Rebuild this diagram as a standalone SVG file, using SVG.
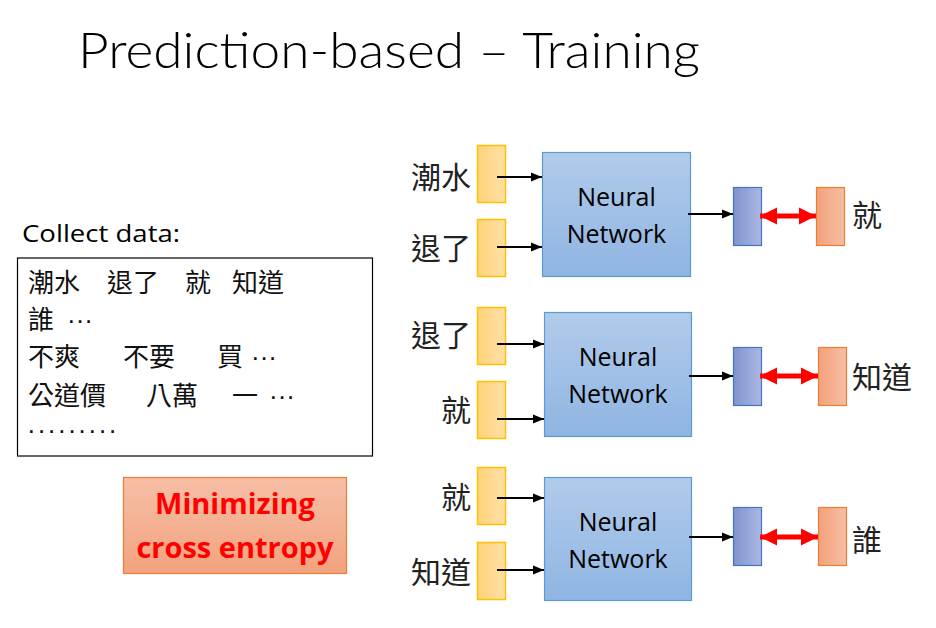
<svg xmlns="http://www.w3.org/2000/svg" width="936" height="628" viewBox="0 0 936 628">
<defs>
<linearGradient id="gy" x1="0" y1="0" x2="1" y2="0"><stop offset="0" stop-color="#FFD27A"/><stop offset="1" stop-color="#FFE0A6"/></linearGradient>
<linearGradient id="gn" x1="0" y1="0" x2="0" y2="1"><stop offset="0" stop-color="#B1CBEA"/><stop offset="1" stop-color="#8FB5E3"/></linearGradient>
<linearGradient id="gb" x1="0" y1="0" x2="1" y2="0"><stop offset="0" stop-color="#7F93CD"/><stop offset="1" stop-color="#AAB8E2"/></linearGradient>
<linearGradient id="go" x1="0" y1="0" x2="1" y2="0"><stop offset="0" stop-color="#F3A07C"/><stop offset="1" stop-color="#F6BFA4"/></linearGradient>
<linearGradient id="gm" x1="0" y1="0" x2="0" y2="1"><stop offset="0" stop-color="#F6BFA6"/><stop offset="1" stop-color="#F2A27E"/></linearGradient>
<marker id="ah" viewBox="0 0 10 10" refX="10" refY="5" markerWidth="5" markerHeight="5" orient="auto" markerUnits="strokeWidth"><path d="M0,1 L10,5 L0,9 z" fill="#000"/></marker>
<marker id="rh" viewBox="0 0 10 10" refX="10" refY="5" markerWidth="3.4" markerHeight="3.8" orient="auto-start-reverse" markerUnits="strokeWidth"><path d="M0,0 L10,5 L0,10 z" fill="#FF0000"/></marker>
<style>
.yel{fill:url(#gy);stroke:#FFC000;stroke-width:1.5}
.nn{fill:url(#gn);stroke:#5B9BD5;stroke-width:1.2}
.blu{fill:url(#gb);stroke:#4472C4;stroke-width:1.2}
.org{fill:url(#go);stroke:#ED7D31;stroke-width:1.2}
.ar{stroke:#000;stroke-width:2.2;fill:none;marker-end:url(#ah)}
.ra{stroke:#FF0000;stroke-width:5;fill:none;marker-end:url(#rh);marker-start:url(#rh)}
.cjk{font-family:"Noto Sans CJK TC","Noto Sans CJK SC",sans-serif;font-size:30px;fill:#222}
.nt{font-family:"Open Sans","Liberation Sans",sans-serif;font-size:25px;fill:#000;text-anchor:middle}
.dt{font-family:"Noto Sans CJK TC","Noto Sans CJK SC",sans-serif;font-size:26px;fill:#111}
.dots{font-family:"Liberation Sans",sans-serif;font-size:26px;fill:#111}
</style>
</defs>
<text x="78" y="68" font-family="Lato,'Open Sans',sans-serif" font-weight="300" font-size="50" fill="#000" textLength="622" lengthAdjust="spacingAndGlyphs">Prediction-based – Training</text>

<g id="data">
<text x="22" y="242" font-family="'Open Sans','Liberation Sans',sans-serif" font-size="24" fill="#000" textLength="158" lengthAdjust="spacingAndGlyphs">Collect data:</text>
<rect x="17.5" y="258" width="355" height="198" fill="#fff" stroke="#000" stroke-width="1.2"/>
<text class="dt" y="292"><tspan x="28">潮水</tspan><tspan x="107">退了</tspan><tspan x="185">就</tspan><tspan x="232">知道</tspan></text>
<text class="dt" x="28" y="329">誰</text>
<text class="dots" x="67" y="329">···</text>
<text class="dt" y="366"><tspan x="28">不爽</tspan><tspan x="123">不要</tspan><tspan x="217">買</tspan></text>
<text class="dots" x="251" y="366">···</text>
<text class="dt" y="405"><tspan x="28">公道價</tspan><tspan x="146">八萬</tspan><tspan x="232">一</tspan></text>
<text class="dots" x="269" y="405">···</text>
<text class="dots" x="27" y="439" textLength="90" lengthAdjust="spacing">·········</text>
</g>

<g id="loss">
<rect x="123.5" y="477.5" width="223" height="96" fill="url(#gm)" stroke="#ED7D31" stroke-width="1.2"/>
<text x="235" y="514" font-family="'Open Sans','Liberation Sans',sans-serif" font-weight="700" font-size="29" fill="#FF0000" text-anchor="middle">Minimizing</text>
<text x="235" y="558" font-family="'Open Sans','Liberation Sans',sans-serif" font-weight="700" font-size="29" fill="#FF0000" text-anchor="middle">cross entropy</text>
</g>

<g id="row1">
<rect class="yel" x="477.5" y="145.5" width="28" height="57"/>
<rect class="yel" x="477.5" y="219.5" width="28" height="57"/>
<text class="cjk" x="471" y="188" text-anchor="end">潮水</text>
<text class="cjk" x="471" y="259" text-anchor="end">退了</text>
<rect class="nn" x="542.5" y="152.5" width="148" height="124"/>
<text class="nt" x="616.5" y="206">Neural</text>
<text class="nt" x="616.5" y="243">Network</text>
<rect class="blu" x="733.5" y="187.5" width="28" height="58"/>
<rect class="org" x="816.5" y="187.5" width="28" height="58"/>
<text class="cjk" x="852" y="226">就</text>
</g>

<g id="row2">
<rect class="yel" x="477.5" y="307.5" width="28" height="57"/>
<rect class="yel" x="477.5" y="381.5" width="28" height="57"/>
<text class="cjk" x="471" y="346" text-anchor="end">退了</text>
<text class="cjk" x="471" y="421" text-anchor="end">就</text>
<rect class="nn" x="544.5" y="312.5" width="147" height="124"/>
<text class="nt" x="618" y="366">Neural</text>
<text class="nt" x="618" y="403">Network</text>
<rect class="blu" x="733.5" y="347.5" width="28" height="58"/>
<rect class="org" x="818.5" y="347.5" width="28" height="58"/>
<text class="cjk" x="852" y="388">知道</text>
</g>

<g id="row3">
<rect class="yel" x="477.5" y="467.5" width="28" height="57"/>
<rect class="yel" x="477.5" y="542.5" width="28" height="57"/>
<text class="cjk" x="471" y="508" text-anchor="end">就</text>
<text class="cjk" x="471" y="583" text-anchor="end">知道</text>
<rect class="nn" x="544.5" y="477.5" width="147" height="123"/>
<text class="nt" x="618" y="531">Neural</text>
<text class="nt" x="618" y="568">Network</text>
<rect class="blu" x="733.5" y="507.5" width="28" height="58"/>
<rect class="org" x="818.5" y="507.5" width="28" height="58"/>
<text class="cjk" x="852" y="551">誰</text>
</g>

<g id="connectors">
<line class="ar" x1="497" y1="177" x2="542" y2="177"/>
<line class="ar" x1="497" y1="247" x2="542" y2="247"/>
<line class="ar" x1="688" y1="214" x2="733" y2="214"/>
<line class="ra" x1="760" y1="216" x2="816" y2="216"/>
<line class="ar" x1="497" y1="344" x2="544" y2="344"/>
<line class="ar" x1="497" y1="419" x2="544" y2="419"/>
<line class="ar" x1="689" y1="376" x2="733" y2="376"/>
<line class="ra" x1="760" y1="376" x2="818" y2="376"/>
<line class="ar" x1="497" y1="498" x2="544" y2="498"/>
<line class="ar" x1="497" y1="570" x2="544" y2="570"/>
<line class="ar" x1="689" y1="537" x2="733" y2="537"/>
<line class="ra" x1="760" y1="537" x2="818" y2="537"/>
</g>
</svg>
